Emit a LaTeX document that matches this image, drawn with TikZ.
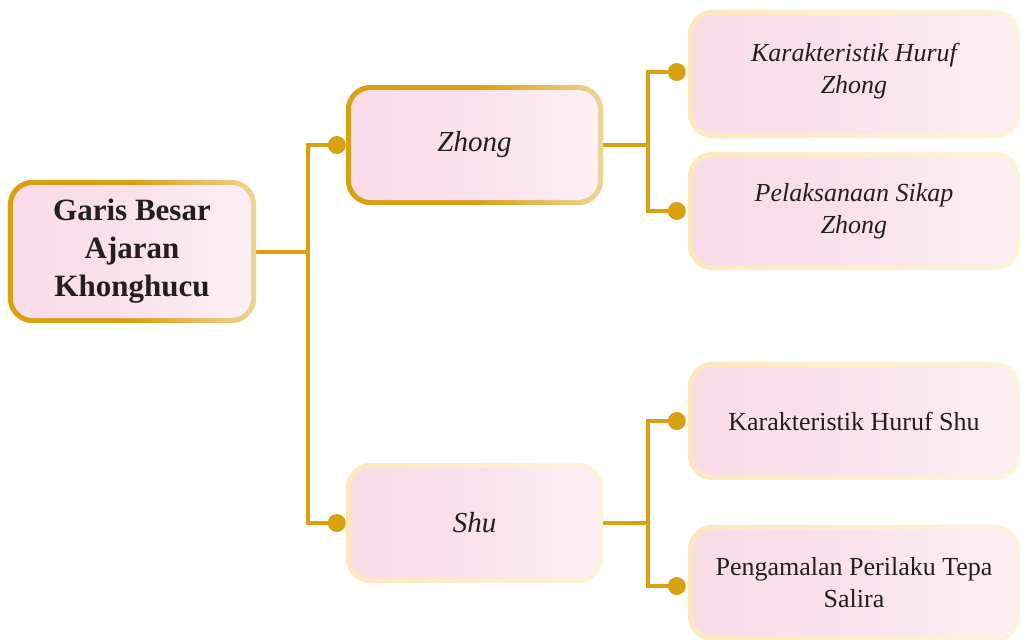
\documentclass[tikz,border=0pt]{standalone}
\usepackage{fontspec}
\setmainfont{Liberation Serif}
\usetikzlibrary{backgrounds}
\definecolor{gold}{HTML}{D9A012}
\definecolor{goldlight}{HTML}{EED596}
\definecolor{cream}{HTML}{FDE8BE}
\definecolor{creamlight}{HTML}{FEF2DC}
\definecolor{pinkL}{HTML}{FADCE8}
\definecolor{pinkM}{HTML}{FAE1EB}
\definecolor{pinkR}{HTML}{FDF0F5}
\definecolor{ink}{HTML}{231F20}
\begin{document}
\begin{tikzpicture}[x=1pt,y=-1pt,
  box/.style={rounded corners=20pt, inner sep=0pt, align=center, text=ink,
    left color=pinkL, right color=pinkR, middle color=pinkM},
  rootbox/.style={box, minimum width=238pt, minimum height=133pt,
    font=\bfseries\fontsize{31}{38}\selectfont},
  midbox/.style={box, minimum width=247pt, minimum height=110pt,
    font=\itshape\fontsize{29}{34}\selectfont},
  leafbox/.style={box, minimum width=322pt, minimum height=108pt,
    font=\fontsize{26}{32}\selectfont},
  goldring/.style={rounded corners=25pt, left color=gold, right color=goldlight, middle color=gold},
  creamring/.style={rounded corners=25pt, left color=cream, right color=creamlight},
  conn/.style={draw=gold, line width=4pt},
  dot/.style={circle, fill=gold, minimum size=18pt, inner sep=0pt}]
\useasboundingbox (0,0) rectangle (1023,640);

\node[rootbox] (root) at (132,251.5) {Garis Besar\\Ajaran\\Khonghucu};
\node[midbox] (zhong) at (474.5,145) {Zhong};
\node[midbox] (shu) at (474.5,523) {Shu};
\node[leafbox, minimum height=118pt, font=\itshape\fontsize{26}{32}\selectfont] (l1) at (854,74) {Karakteristik Huruf\\Zhong\\[-20pt]};
\node[leafbox, font=\itshape\fontsize{26}{32}\selectfont] (l2) at (854,211) {Pelaksanaan Sikap\\Zhong};
\node[leafbox] (l3) at (854,421) {Karakteristik Huruf Shu};
\node[leafbox, minimum height=106pt] (l4) at (854,583) {Pengamalan Perilaku Tepa\\Salira};

\node[dot] (dz) at ([xshift=-14pt]zhong.west) {};
\node[dot] (ds) at ([xshift=-14pt]shu.west) {};
\node[dot] (d1) at ([xshift=-16pt,yshift=2pt]l1.west) {};
\node[dot] (d2) at ([xshift=-16pt]l2.west) {};
\node[dot] (d3) at ([xshift=-16pt]l3.west) {};
\node[dot] (d4) at ([xshift=-16pt,yshift=-3pt]l4.west) {};

\begin{pgfonlayer}{background}
  \draw[conn] (root.east) -- ++(57,0) coordinate (rj);
  \draw[conn] (dz.center) -| (rj) |- (ds.center);
  \draw[conn] (zhong.east) -- ++(50,0) coordinate (zj);
  \draw[conn] (d1.center) -| (zj) |- (d2.center);
  \draw[conn] (shu.east) -- ++(50,0) coordinate (sj);
  \draw[conn] (d3.center) -| (sj) |- (d4.center);
  \shade[goldring] ([shift={(-5,5)}]root.south west) rectangle ([shift={(5,-5)}]root.north east);
  \shade[goldring] ([shift={(-5,5)}]zhong.south west) rectangle ([shift={(5,-5)}]zhong.north east);
  \shade[creamring] ([shift={(-5,5)}]shu.south west) rectangle ([shift={(5,-5)}]shu.north east);
  \shade[creamring] ([shift={(-5,5)}]l1.south west) rectangle ([shift={(5,-5)}]l1.north east);
  \shade[creamring] ([shift={(-5,5)}]l2.south west) rectangle ([shift={(5,-5)}]l2.north east);
  \shade[creamring] ([shift={(-5,5)}]l3.south west) rectangle ([shift={(5,-5)}]l3.north east);
  \shade[creamring] ([shift={(-5,5)}]l4.south west) rectangle ([shift={(5,-5)}]l4.north east);
\end{pgfonlayer}
\end{tikzpicture}
\end{document}
